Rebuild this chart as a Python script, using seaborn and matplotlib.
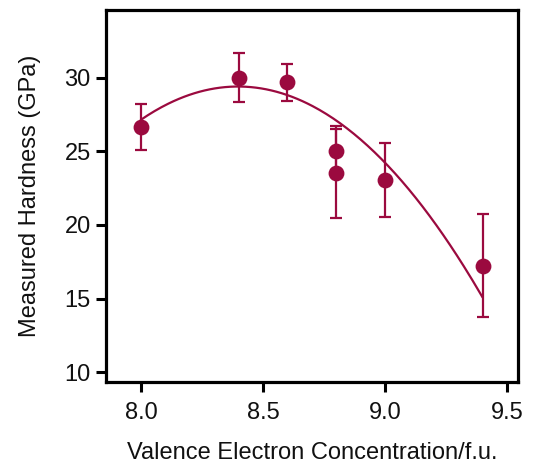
import numpy as np
import pandas as pd
import matplotlib
matplotlib.use("Agg")
import matplotlib.pyplot as plt
import seaborn as sns

# data
vec = [8.0, 8.4, 8.6, 8.8, 8.8, 9.0, 9.4]
hardness = [26.67, 30.0, 29.68, 25.0, 23.5, 23.06, 17.23]
err = [1.55, 1.65, 1.25, 1.7, 3.0, 2.5, 3.5]
# quadratic fit coefficients (highest power first)
fit_coef = [-14.27, 239.679, -977.01]
fit_range = [8.0, 9.4]

color = "#9b0a3f"

df = pd.DataFrame({"vec": vec, "H": hardness, "err": err})
xf = np.linspace(fit_range[0], fit_range[1], 200)
fit_df = pd.DataFrame({"vec": xf, "H": np.polyval(fit_coef, xf)})

sns.set_theme(style="white")
plt.rcParams["font.family"] = ["Liberation Sans", "DejaVu Sans"]

fig = plt.figure(figsize=(5.34, 4.66), dpi=100)
ax = fig.add_axes([0.1985, 0.180, 0.7715, 0.7985])

sns.lineplot(data=fit_df, x="vec", y="H", color=color, lw=1.6, ax=ax, zorder=2)
ax.errorbar(df["vec"], df["H"], yerr=df["err"], fmt="none", ecolor=color,
            elinewidth=1.6, capsize=4.5, capthick=1.6, zorder=3)
sns.scatterplot(data=df, x="vec", y="H", color=color, s=130, edgecolor=color,
                linewidth=0, ax=ax, zorder=4)

ax.set_xlim(7.857, 9.545)
ax.set_ylim(9.32, 34.6)
ax.set_xticks([8.0, 8.5, 9.0, 9.5])
ax.set_yticks([10, 15, 20, 25, 30])
ax.set_xticklabels(["8.0", "8.5", "9.0", "9.5"])

for s in ax.spines.values():
    s.set_visible(True)
    s.set_color("black")
    s.set_linewidth(2.3)
ax.tick_params(axis="both", which="major", direction="out", length=7, width=2.2,
               color="black", labelsize=17, labelcolor="#111111", pad=4,
               bottom=True, left=True, top=False, right=False)
ax.tick_params(axis="x", pad=7)

ax.set_xlabel("Valence Electron Concentration/f.u.", fontsize=17, labelpad=13, color="#111111")
ax.set_ylabel("Measured Hardness (GPa)", fontsize=17, labelpad=17, color="#111111")

fig.savefig("out.png", dpi=100)
